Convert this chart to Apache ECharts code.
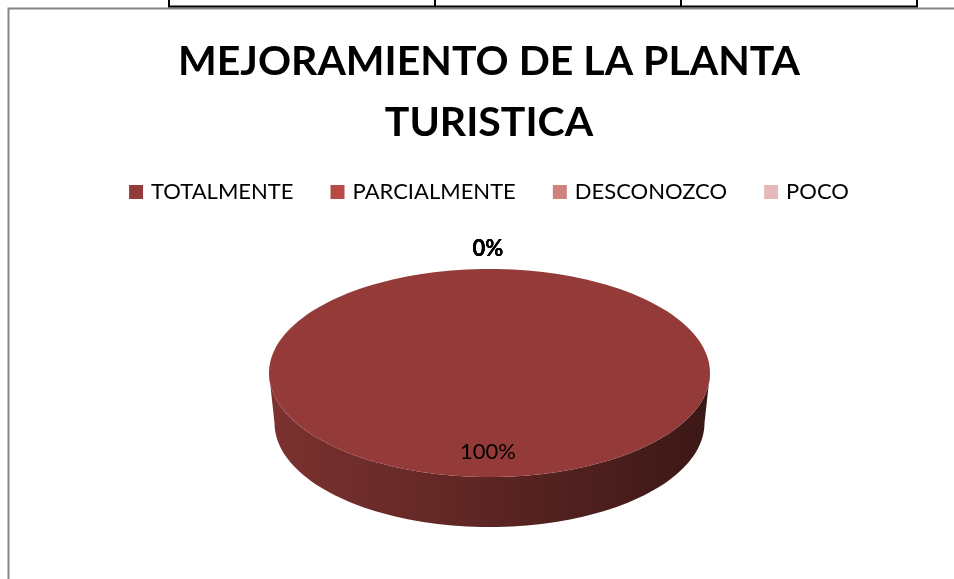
<!DOCTYPE html>
<html>
<head>
<meta charset="utf-8">
<script src="https://cdn.jsdelivr.net/npm/echarts@6/dist/echarts.min.js"></script>
<style>
	html, body { margin: 0; padding: 0; background: #fff; overflow: hidden; }
	#chart { position: absolute; left: 0; top: 0; width: 978px; height: 579px; }
</style>
</head>
<body>
<div id="chart"></div>
<script>
// datos del gráfico
const categories = ['TOTALMENTE', 'PARCIALMENTE', 'DESCONOZCO', 'POCO'];
const values = [100, 0, 0, 0];
const colors = ['#943b39', '#b84b48', '#d0807d', '#e6b9b8'];

// geometría de la torta 3D
const CX = 489.5, CY = 373, RX = 220.5, RY = 104, DEPTH = 50;
const RXB = 215, RYB = 104;

const total = values.reduce((a, b) => a + b, 0);
const starts = [];
let acc = 0;
values.forEach((v) => {
	starts.push(acc);
	acc += v;
});

// oscurecer un color (factor 0..1)
function darken(c, f) {
	const rgb = echarts.color.parse(c);
	return `rgb(${Math.round(rgb[0] * f)},${Math.round(rgb[1] * f)},${Math.round(rgb[2] * f)})`;
}

const pt = (a, rx, ry, cy) => [CX + rx * Math.sin(a), cy - ry * Math.cos(a)];

function arcPoints(a0, a1, rx, ry, cy) {
	const n = Math.max(2, Math.ceil(((a1 - a0) / (2 * Math.PI)) * 180));
	const pts = [];
	for (let i = 0; i <= n; i++) {
		pts.push(pt(a0 + ((a1 - a0) * i) / n, rx, ry, cy));
	}
	return pts;
}

function renderSlice(params, api) {
	const v = api.value(0), s = api.value(1);
	const a0 = (s / total) * 2 * Math.PI;
	const a1 = ((s + v) / total) * 2 * Math.PI;
	const color = api.visual('color');
	const children = [];

	if (v > 0) {
		// lado visible (frente)
		const f0 = Math.max(a0, Math.PI / 2), f1 = Math.min(a1, (3 * Math.PI) / 2);
		if (f1 > f0) {
			const top = arcPoints(f0, f1, RX, RY, CY);
			const bottom = arcPoints(f0, f1, RXB, RYB, CY + DEPTH).reverse();
			children.push({
				type: 'polygon',
				shape: { points: top.concat(bottom) },
				style: {
					fill: new echarts.graphic.LinearGradient(CX - RX, 0, CX + RX, 0, [
						{ offset: 0, color: darken(color, 0.84) },
						{ offset: 0.5, color: darken(color, 0.62) },
						{ offset: 1, color: darken(color, 0.4) },
					], true),
				},
			});
		}
		// cara superior
		let pts = arcPoints(a0, a1, RX, RY, CY);
		if (a1 - a0 < 2 * Math.PI - 1e-6) pts = [[CX, CY]].concat(pts);
		children.push({ type: 'polygon', shape: { points: pts }, style: { fill: color } });
	}

	// etiqueta de porcentaje
	const mid = (a0 + a1) / 2;
	const pos = v > 0 ? pt(mid, RX * 0.76, RY * 0.76, CY) : pt(mid, RX + 20, RY + 20, CY);
	children.push({
		type: 'text',
		x: pos[0] - 1.5,
		y: pos[1],
		style: {
			text: Math.round((v / total) * 100) + '%',
			fill: '#000',
			font: (v > 0 ? 'normal' : 'bold') + ' 22px Lato',
			align: 'center',
			verticalAlign: 'middle',
		},
	});
	return { type: 'group', children: children };
}

const chart = echarts.init(document.getElementById('chart'), null, { renderer: 'canvas' });

const option = {
	animation: false,
	backgroundColor: '#fff',
	title: {
		text: 'MEJORAMIENTO DE LA PLANTA\nTURISTICA',
		left: 'center',
		top: 26,
		textStyle: {
			fontFamily: 'Lato',
			fontWeight: 'bold',
			fontSize: 41,
			lineHeight: 61,
			color: '#000',
		},
	},
	legend: {
		top: 176,
		left: 'center',
		icon: 'rect',
		itemWidth: 14,
		itemHeight: 14,
		itemGap: 37,
		selectedMode: false,
		textStyle: { fontFamily: 'Lato', fontSize: 22, color: '#000', padding: [0, 0, 0, 3] },
		data: categories,
	},
	graphic: [
		// marco del gráfico
		{ type: 'polyline', shape: { points: [[8.5, 579], [8.5, 8.5], [978, 8.5]] }, style: { stroke: '#868686', lineWidth: 2, fill: null } },
		// borde de la tabla superior
		{ type: 'line', shape: { x1: 168, y1: 6.5, x2: 918, y2: 6.5 }, style: { stroke: '#000', lineWidth: 2 } },
		{ type: 'line', shape: { x1: 169, y1: 0, x2: 169, y2: 7 }, style: { stroke: '#000', lineWidth: 2 } },
		{ type: 'line', shape: { x1: 435, y1: 0, x2: 435, y2: 7 }, style: { stroke: '#000', lineWidth: 2 } },
		{ type: 'line', shape: { x1: 681, y1: 0, x2: 681, y2: 7 }, style: { stroke: '#000', lineWidth: 2 } },
		{ type: 'line', shape: { x1: 917, y1: 0, x2: 917, y2: 7 }, style: { stroke: '#000', lineWidth: 2 } },
	],
	series: categories.map((name, i) => ({
		type: 'custom',
		name: name,
		coordinateSystem: 'none',
		color: colors[i],
		data: [[values[i], starts[i]]],
		renderItem: renderSlice,
	})),
};

chart.setOption(option);
</script>
</body>
</html>
